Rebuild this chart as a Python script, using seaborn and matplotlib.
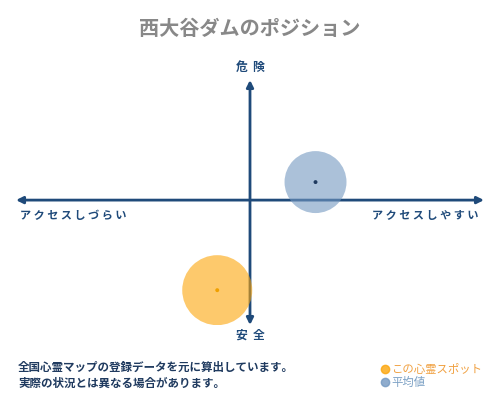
import matplotlib
matplotlib.use("Agg")
import matplotlib.pyplot as plt
from matplotlib.lines import Line2D
import pandas as pd
import seaborn as sns

# position data (x: access, y: danger), range -1..1
spots = ["この心霊スポット", "平均値"]
access = [-0.14, 0.28]
danger = [-0.75, 0.15]

title = "西大谷ダムのポジション"
label_top = "危険"
label_bottom = "安全"
label_left = "アクセスしづらい"
label_right = "アクセスしやすい"
notes = ["全国心霊マップの登録データを元に算出しています。",
         "実際の状況とは異なる場合があります。"]

navy = "#1f4a7a"
fill_colors = {"この心霊スポット": "#fca50a", "平均値": "#7398c1"}
dot_colors = {"この心霊スポット": "#f0a000", "平均値": "#1f3a5f"}
text_colors = ["#f0a040", "#7ba0c4"]

sns.set_theme(style="white")
plt.rcParams['font.family'] = ['Noto Sans CJK JP', 'DejaVu Sans']

df = pd.DataFrame({"spot": spots, "access": access, "danger": danger})

fig = plt.figure(figsize=(5, 4), dpi=100)
fig.patch.set_facecolor("white")
ax = fig.add_axes([16/500, 75/400, 468/500, 245/400])
ax.set_xlim(-1, 1)
ax.set_ylim(-1.04, 1)
ax.axis("off")

# cross arrows
ax.annotate("", xy=(1, 0), xytext=(-1, 0),
            arrowprops=dict(arrowstyle="<|-|>", color=navy, lw=2, mutation_scale=10,
                            shrinkA=0, shrinkB=0))
ax.annotate("", xy=(0, 1), xytext=(0, -1.04),
            arrowprops=dict(arrowstyle="<|-|>", color=navy, lw=2, mutation_scale=10,
                            shrinkA=0, shrinkB=0))

sns.scatterplot(data=df, x="access", y="danger", hue="spot", palette=fill_colors,
                size="spot", sizes={"この心霊スポット": 2540, "平均値": 1990},
                alpha=0.6, linewidth=0, legend=False, ax=ax, zorder=3)
sns.scatterplot(data=df, x="access", y="danger", hue="spot", palette=dot_colors,
                s=8, linewidth=0, legend=False, ax=ax, zorder=4)

def spaced(s, gap=" "):
    return gap.join(s)

fig.text(0.5, 1 - 28/400, title, ha="center", va="center", fontsize=14.5,
         color="#888888", fontweight="bold")
fig.text(0.5, 1 - 67/400, spaced(label_top, "  "), ha="center", va="center",
         fontsize=8.5, color=navy, fontweight="bold")
fig.text(0.5, 1 - 335/400, spaced(label_bottom, "  "), ha="center", va="center",
         fontsize=8.5, color=navy, fontweight="bold")
fig.text(73/500, 1 - 216/400, spaced(label_left), ha="center", va="center",
         fontsize=8, color=navy, fontweight="bold")
fig.text(425/500, 1 - 216/400, spaced(label_right), ha="center", va="center",
         fontsize=8, color=navy, fontweight="bold")

for i, line in enumerate(notes):
    fig.text(18/500, 1 - (367 + 16*i)/400, line, ha="left", va="center",
             fontsize=8.3, color="#1f3a5f", fontweight="bold")

handles = [Line2D([], [], marker="o", linestyle="", markersize=6,
                  color=fill_colors[s], alpha=0.8) for s in spots]
fig.legend(handles, spots, loc="upper left", bbox_to_anchor=(372/500, 1 - 358/400),
           frameon=False, handletextpad=0.0, labelspacing=0.2, handlelength=1.2,
           borderpad=0, fontsize=8.2, labelcolor=text_colors)

fig.savefig("out.png", dpi=100, facecolor="white")
